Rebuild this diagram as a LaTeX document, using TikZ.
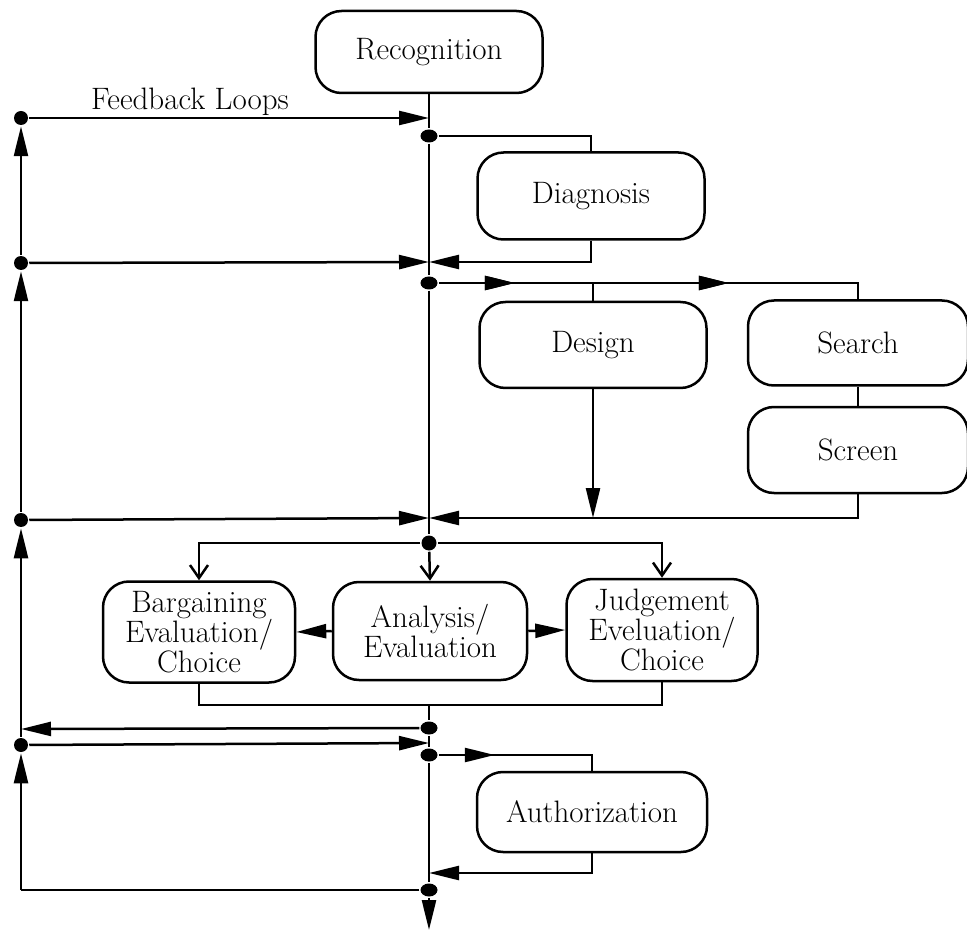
\documentclass[tikz,border=0pt]{standalone}
\usepackage{fontspec}
\usetikzlibrary{arrows.meta,shapes.geometric,decorations.markings}

\begin{document}
\begin{tikzpicture}[x=1pt,y=-1pt,
  line width=2.5pt,
  font=\fontsize{31}{30}\selectfont,
  >={Triangle[length=30pt,width=14pt]},
  barb/.tip={Straight Barb[length=13pt,width=18pt,line width=2.5pt]},
  stage/.style={draw, rounded corners=26pt, align=center, inner sep=0pt},
  dot/.style={ellipse, fill, draw=none, minimum width=17pt, minimum height=13pt, inner sep=0pt},
  midarrow/.style={postaction={decorate}, decoration={markings,
      mark=at position #1 with {\arrow{>}}}},
]
\useasboundingbox (0,0) rectangle (967,933);

% stages of the decision process
\node[stage, minimum width=227pt, minimum height=82pt] (rec)  at (429,52)  {Recognition};
\node[stage, minimum width=227pt, minimum height=87pt] (diag) at (591,196) {Diagnosis};
\node[stage, minimum width=227pt, minimum height=86pt] (des)  at (593,345) {Design};
\node[stage, minimum width=220pt, minimum height=85pt] (sea)  at (858,343) {Search};
\node[stage, minimum width=220pt, minimum height=86pt] (scr)  at (858,450) {Screen};
\node[stage, minimum width=192pt, minimum height=101pt] (barg) at (199,632) {Bargaining\\Evaluation/\\Choice};
\node[stage, minimum width=194pt, minimum height=98pt]  (anal) at (430,631) {Analysis/\\Evaluation};
\node[stage, minimum width=191pt, minimum height=102pt] (judg) at (662,630) {Judgement\\Eveluation/\\Choice};
\node[stage, minimum width=230pt, minimum height=80pt]  (auth) at (592,812) {Authorization};

% branch points on the main line
\node[dot] (m1) at (429,136) {};
\node[dot] (m2) at (429,283) {};
\node[dot, minimum width=15pt, minimum height=15pt] (m3) at (429,543) {};
\node[dot] (m4) at (429,728) {};
\node[dot] (m5) at (429,755) {};
\node[dot] (m6) at (429,890) {};

% branch points on the feedback line
\node[dot, minimum width=14pt, minimum height=14pt] (l1) at (21,118) {};
\node[dot, minimum width=14pt, minimum height=14pt] (l2) at (21,263) {};
\node[dot, minimum width=14pt, minimum height=14pt] (l3) at (21,520) {};
\node[dot, minimum width=14pt, minimum height=14pt] (l4) at (21,745) {};

% junctions where arrows meet the main line
\coordinate (j1) at (429,118);
\coordinate (j2) at (429,262);
\coordinate (j3) at (429,518);
\coordinate (j4) at (429,743);
\coordinate (j5) at (429,873);
\coordinate (bus) at (429,705);
\coordinate (k4) at (21,729);
\coordinate (lb) at (21,890);
\coordinate (out) at (429,930);

\node[anchor=base] (fb) at (190,110) {Feedback Loops};

% main line
\draw (rec.south) -- (m1) -- (m2) -- (m3);
\draw (bus) -- (m4) -- (m5) -- (m6);
\draw[->] (m6) -- (out);

% diagnosis loop
\draw (m1) -| (diag.north);
\draw[->] (diag.south) |- (j2);

% design / search-screen routines
\draw[midarrow=76pt, midarrow=290pt] (m2) -| (sea.north);
\draw (des.north) -- (des.north |- m2);
\draw (sea) -- (scr);
\draw[->] (des.south) -- (des.south |- j3);
\draw[->] (scr.south) |- (j3);

% evaluation / choice routines
\draw[-barb] (m3) -| (barg.north);
\draw[-barb] (m3) -- (anal.north);
\draw[-barb] (m3) -| (judg.north);
\draw[->] (anal.west) -- (barg.east);
\draw[->] (anal.east) -- (judg.west);
\draw (barg.south) |- (bus) -| (judg.south);

% authorization loop
\draw[midarrow=56pt] (m5) -| (auth.north);
\draw[->] (auth.south) |- (j5);

% feedback loops
\draw[->] (l1) -- (j1);
\draw[->] (l2) -- (j2);
\draw[->] (l3) -- (j3);
\draw[->] (l4) -- (j4);
\draw[->] (m4) -- (k4);
\draw (m6) -- (lb);
\draw[->] (lb) -- (l4);
\draw[->] (l4) -- (l3);
\draw[->] (l3) -- (l2);
\draw[->] (l2) -- (l1);
\end{tikzpicture}
\end{document}
